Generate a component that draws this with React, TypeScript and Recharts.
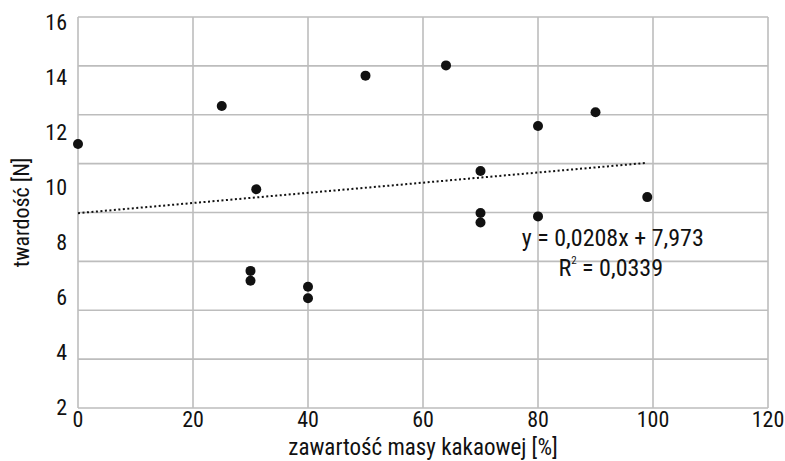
import {
  CartesianGrid,
  ReferenceDot,
  Scatter,
  Line,
  XAxis,
  YAxis,
  ComposedChart,
} from "recharts";

// zawartość masy kakaowej [%]
const cocoa = [0, 25, 31, 30, 30, 40, 40, 50, 64, 70, 70, 70, 80, 80, 90, 99];
// twardość [N]
const hardness = [
  10.8, 12.36, 8.95, 5.61, 5.21, 4.96, 4.49, 13.6, 14.02, 9.7, 7.98, 7.59,
  11.54, 7.84, 12.1, 8.63,
];

// linia trendu z równania na wykresie
const trendSlope = 0.0208;
const trendIntercept = 7.973;
const trendX = [0, 99];

const xTicks = [0, 20, 40, 60, 80, 100, 120];
const gridTicks = [0, 2, 4, 6, 8, 10, 12, 14, 16];
const labelTicks = [2, 4, 6, 8, 10, 12, 14, 16];

const FONT = "'Roboto Condensed', 'Liberation Sans Narrow', 'DejaVu Sans Condensed', Roboto, sans-serif";
const GRID = "#bdbdbd";
const INK = "#111";

const points = cocoa.map((x, i) => ({ x, y: hardness[i] }));
const trend = trendX.map((x) => ({ x, trend: trendSlope * x + trendIntercept }));

function EquationLabel(props: { cx?: number; cy?: number }) {
  const { cx = 0, cy = 0 } = props;
  return (
    <g fontFamily={FONT} fontSize={24} fill={INK}>
      <text x={cx} y={cy} textAnchor="middle">
        y = 0,0208x + 7,973
      </text>
      <text x={cx - 2} y={cy + 30} textAnchor="middle">
        R<tspan fontSize={11} dy={-12}>2</tspan>
        <tspan dy={12}> = 0,0339</tspan>
      </text>
    </g>
  );
}

export default function App() {
  return (
    <div style={{ position: "absolute", left: 0, top: 0, background: "#fff" }}>
      <ComposedChart
        width={785}
        height={461}
        margin={{ top: 17, right: 17, left: 0, bottom: 0 }}
        style={{ fontFamily: FONT }}
      >
        <CartesianGrid
          yAxisId="main"
          stroke={GRID}
          strokeWidth={1.6}
          horizontalValues={gridTicks}
          verticalValues={xTicks}
        />
        <XAxis
          type="number"
          dataKey="x"
          domain={[0, 120]}
          ticks={xTicks}
          interval={0}
          axisLine={false}
          tickLine={false}
          tickSize={0}
          tickMargin={3}
          height={53}
          tick={{ fontSize: 22, fill: INK }}
          label={{
            value: "zawartość masy kakaowej [%]",
            position: "insideBottom",
            offset: 6,
            fontSize: 23,
            fill: INK,
          }}
        />
        <YAxis
          yAxisId="main"
          type="number"
          domain={[0, 16]}
          ticks={gridTicks}
          hide
        />
        {/* etykiety osi Y jak w oryginale (nie pokrywają się z siatką) */}
        <YAxis
          yAxisId="labels"
          type="number"
          domain={[1.96, 16.18]}
          ticks={labelTicks}
          interval={0}
          allowDataOverflow
          axisLine={false}
          tickLine={false}
          tickSize={0}
          tickMargin={11}
          width={78}
          tick={{ fontSize: 22, fill: INK }}
          label={{
            value: "twardość [N]",
            angle: -90,
            position: "insideLeft",
            offset: 21,
            fontSize: 22,
            fill: INK,
            style: { textAnchor: "middle" },
          }}
        />
        <Line
          yAxisId="main"
          data={trend}
          dataKey="trend"
          type="linear"
          stroke={INK}
          strokeWidth={2}
          strokeDasharray="2 2.5"
          dot={false}
          activeDot={false}
          isAnimationActive={false}
        />
        <Scatter
          yAxisId="main"
          data={points}
          dataKey="y"
          fill={INK}
          shape={(p: { cx?: number; cy?: number }) => (
            <circle cx={p.cx} cy={p.cy} r={5} fill={INK} />
          )}
          isAnimationActive={false}
        />
        <ReferenceDot
          yAxisId="main"
          x={93}
          y={6.63}
          r={0}
          shape={(p: { cx?: number; cy?: number }) => <EquationLabel {...p} />}
        />
      </ComposedChart>
    </div>
  );
}
